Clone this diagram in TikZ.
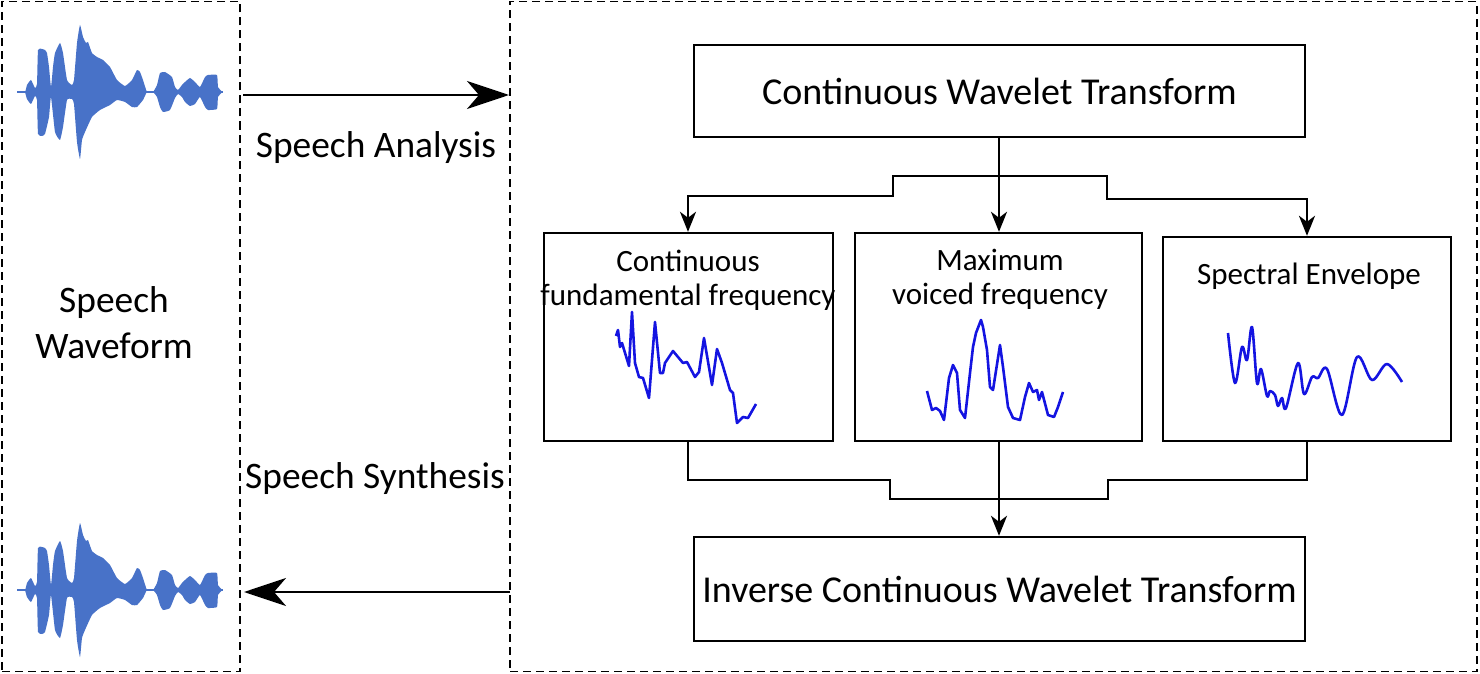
\documentclass[tikz,border=0pt]{standalone}
\usepackage{fontspec}
\setmainfont{Carlito}
\usetikzlibrary{arrows.meta}
\definecolor{wave}{RGB}{72,114,200}
\definecolor{curveblue}{RGB}{20,20,225}
\newcommand\speechwave[1]{%
  \fill[wave, shift={(0,#1)}] plot[smooth, tension=0.25] coordinates {
    (18,0) (25,0) (27,-7) (31,-12) (35,-4) (37,-8) (38,-42) (42,-43) (45,-42) (47,-39) (49,-25) (51,-5) (53,-25) (55,-39) (60,-49) (63,-39) (67,-12) (72,-7) (74,-12) (77,-49) (80,-67) (83,-55) (86,-49) (88,-50) (92,-39) (97,-35) (103,-32) (110,-25) (117,-12) (125,-6) (132,-12) (137,-22) (140,-20) (143,-12) (147,0) (153,0) (157,-7) (160,-19) (165,-20) (172,-15) (175,-5) (178,-2) (182,-7) (185,-10) (190,-14) (195,-10) (200,-5) (205,-15) (208,-17) (217,-17) (218,-5) (222,0)
    (218,5) (217,17) (208,18) (205,15) (200,5) (195,12) (190,14) (185,10) (182,5) (178,2) (175,6) (170,18) (163,20) (160,15) (157,5) (153,0) (147,0) (143,8) (137,15) (132,15) (125,10) (117,8) (110,13) (100,18) (92,25) (85,40) (82,48) (80,67) (77,50) (74,12) (72,7) (67,8) (63,35) (60,48) (55,40) (51,5) (49,25) (45,42) (42,44) (38,42) (37,8) (35,4) (31,12) (27,7) (25,0)
  } -- cycle;
  \draw[wave, line width=0.8pt] (17,#1) -- (223,#1);
}
\begin{document}
\begin{tikzpicture}[x=0.5pt,y=-0.5pt,
  box/.style={draw, line width=1.2pt, inner sep=0pt},
  dbox/.style={draw, dash pattern=on 4pt off 2.5pt, line width=0.9pt, inner sep=0pt},
  conn/.style={line width=1.4pt, -{Stealth[length=10pt,width=8pt,inset=3pt]}},
  plain/.style={line width=1.4pt},
  big/.style={line width=1.3pt, -{Stealth[length=21pt,width=14pt,inset=6pt]}},
  lbl/.style={font=\fontsize{15.5}{17}\selectfont, align=center, inner sep=0pt},
  mainfont/.style={font=\fontsize{19}{22}\selectfont},
  sidefont/.style={font=\fontsize{18.7}{23}\selectfont, align=center},
  crv/.style={curveblue, line width=1.3pt, line join=round}]
\useasboundingbox (0,0) rectangle (1480,674);

% dashed frames
\node[dbox, minimum width=119pt, minimum height=335pt] (left) at (121,336.5) {};
\node[dbox, minimum width=483.5pt, minimum height=335pt] (right) at (993.5,336.5) {};

% waveforms
\speechwave{92}
\speechwave{590}
\node[sidefont] (sw) at (114,323) {Speech\\Waveform};

% main arrows
\coordinate (a1) at (243,95);
\coordinate (a2) at (509,95);
\draw[big] (a1) -- (a2);
\node[sidefont] (sa) at (376,148) {Speech Analysis};
\coordinate (b1) at (510,592);
\coordinate (b2) at (244,592);
\draw[big] (b1) -- (b2);
\node[sidefont] (ss) at (375,479) {Speech Synthesis};

% boxes
\node[box, mainfont, minimum width=305.5pt, minimum height=46pt] (cwt) at (999.5,91) {Continuous Wavelet Transform};
\node[box, minimum width=144.5pt, minimum height=104pt] (f0) at (688.5,337) {};
\node[box, minimum width=143.5pt, minimum height=104pt] (mvf) at (998.5,337) {};
\node[box, minimum width=144pt, minimum height=102pt] (se) at (1307,339) {};
\node[box, mainfont, minimum width=305.5pt, minimum height=52pt] (icwt) at (999.5,589) {Inverse Continuous Wavelet Transform};

\node[lbl] (l1) at (688,280) {Continuous\\fundamental frequency};
\node[lbl] (l2) at (1000,279) {Maximum\\voiced frequency};
\node[lbl] (l3) at (1309,276) {Spectral Envelope};

% curves
\draw[crv] plot coordinates {(616,336) (618,330) (620,347) (622,343) (629,366) (632,312) (635,363) (639,377) (643,378) (649,398) (655,322) (660,373) (663,373) (665,363) (673,351) (683,363) (687,362) (695,377) (699,372) (704,338) (712,385) (717,349) (722,363) (730,390) (733,393) (737,423) (743,417) (748,418) (756,404)};
\draw[crv] plot coordinates {(927,391) (932,410) (936,408) (940,411) (944,420) (949,378) (953,365) (957,373) (960,410) (965,418) (970,373) (973,347) (976,333) (981,320) (983,327) (987,350) (990,387) (993,390) (1000,345) (1003,367) (1008,407) (1013,418) (1020,420) (1025,397) (1029,383) (1033,392) (1037,390) (1039,400) (1042,392) (1048,415) (1054,417) (1058,407) (1063,392)};
\draw[crv] plot[smooth, tension=0.55] coordinates {(1228,333) (1235,383) (1242,347) (1247,360) (1252,327) (1257,383) (1261,369) (1267,396) (1270,391) (1275,395) (1278,406) (1282,398) (1286,408) (1298,363) (1304,394) (1312,377) (1318,378) (1327,369) (1342,415) (1357,357) (1372,380) (1387,364) (1402,382)};

% connectors top
\coordinate (split) at (999,176);
\draw[conn] (cwt.south -| split) -- (mvf.north -| split);
\draw[conn] (split) -- (893,176) -- (893,196) -- (688,196) -- (f0.north -| 688,0);
\draw[conn] (split) -- (1107,176) -- (1107,199) -- (1307,199) -- (se.north);

% connectors bottom
\coordinate (join) at (999,499);
\draw[plain] (f0.south -| 688,0) -- (688,480) -- (890,480) -- (890,499) -- (1108,499) -- (1108,480) -- (1307,480) -- (se.south);
\draw[conn] (mvf.south -| join) -- (icwt.north -| join);
\end{tikzpicture}
\end{document}
